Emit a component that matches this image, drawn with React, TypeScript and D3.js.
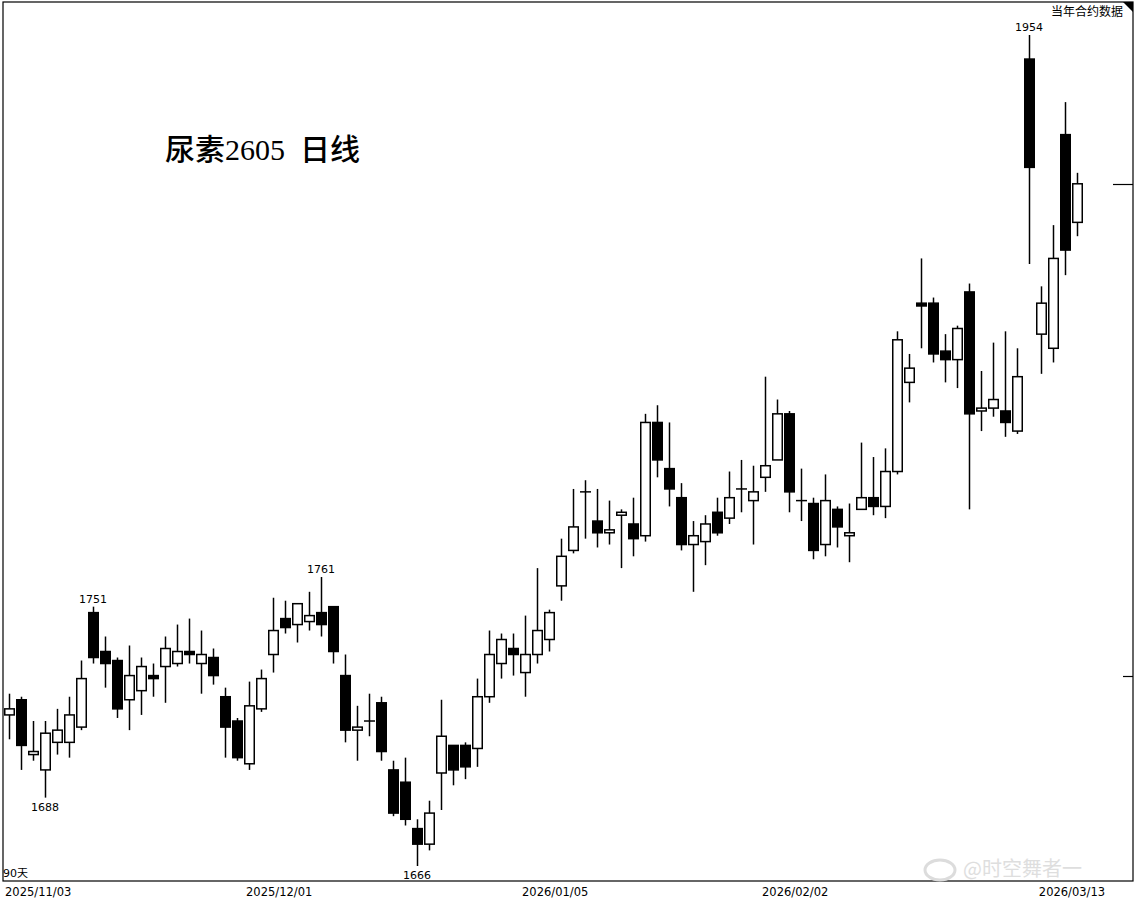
import React from "react";
import * as d3 from "d3";

const opens = [1715,1720,1702,1697,1706,1706,1711,1749,1736,1733,1720,1723,1728,1731,1732,1736,1732,1734,1721,1713,1699,1717,1735,1747,1745,1746,1749,1751,1728,1710,1713,1719,1697,1693,1678,1673,1696,1705,1705,1704,1721,1732,1737,1729,1735,1740,1758,1770,1790,1780,1776,1782,1779,1775,1814,1798,1788,1772,1773,1783,1781,1791,1787,1795,1801,1817,1787,1786,1772,1784,1775,1784,1788,1785,1797,1828,1856,1856,1839,1836,1860,1818,1819,1818,1811,1945,1845,1840,1917,1885];
const highs = [1722,1721,1713,1713,1717,1721,1733,1751,1741,1734,1738,1734,1732,1741,1745,1747,1743,1737,1724,1714,1726,1730,1754,1753,1752,1756,1761,1751,1735,1718,1722,1721,1700,1701,1681,1687,1720,1705,1706,1727,1743,1742,1742,1748,1764,1750,1774,1791,1794,1791,1787,1784,1788,1817,1820,1814,1793,1780,1782,1788,1797,1801,1799,1830,1822,1818,1798,1788,1796,1785,1786,1807,1802,1805,1846,1838,1872,1858,1845,1848,1863,1832,1842,1846,1840,1954,1862,1884,1929,1903];
const lows = [1707,1697,1700,1688,1702,1701,1710,1732,1724,1714,1710,1715,1721,1719,1731,1732,1722,1725,1701,1700,1697,1716,1729,1742,1739,1743,1741,1732,1706,1700,1708,1700,1682,1679,1666,1671,1684,1692,1694,1698,1719,1727,1728,1721,1732,1736,1753,1769,1774,1771,1772,1764,1768,1773,1795,1785,1770,1756,1765,1775,1779,1783,1772,1790,1801,1783,1780,1767,1768,1771,1766,1784,1782,1781,1796,1821,1840,1835,1828,1826,1784,1811,1816,1809,1810,1870,1831,1835,1866,1880];
const closes = [1717,1705,1703,1709,1710,1715,1727,1734,1732,1717,1728,1731,1727,1737,1736,1735,1735,1728,1711,1701,1718,1727,1743,1744,1752,1748,1745,1736,1710,1711,1713,1703,1683,1681,1673,1683,1708,1697,1698,1721,1735,1740,1735,1735,1743,1749,1768,1778,1790,1776,1777,1783,1774,1814,1801,1791,1772,1775,1779,1776,1788,1791,1790,1799,1817,1790,1787,1770,1787,1778,1776,1788,1785,1797,1843,1833,1855,1838,1836,1847,1817,1819,1822,1814,1830,1905,1856,1872,1875,1899];

const dateTickIndex = [0, 20, 43, 63, 89];
const dateTickLabels = ["2025/11/03", "2025/12/01", "2026/01/05", "2026/02/02", "2026/03/13"];

const highLabelIndex = [7, 26, 85];
const lowLabelIndex = [3, 34];

const rightMarks = [1899, 1728];

const title = "尿素2605  日线";
const cornerNote = "当年合约数据";
const periodNote = "90天";
const watermark = "@时空舞者一";

export default function App() {
  const W = 1137, H = 901;
  const left = 3, top = 2, right = 1133, bottom = 881;
  const n = opens.length;
  const x = d3.scaleLinear().domain([0, n - 1]).range([9, 1077]);
  const y = d3.scaleLog().domain([1666, 1954]).range([866, 35]);
  const bw = 9.5;
  const sw = 1.5;
  const numFont = "'DejaVu Sans', Tahoma, sans-serif";

  const candles = d3.range(n).map((i) => {
    const o = opens[i], c = closes[i], h = highs[i], l = lows[i];
    const cx = Math.round(x(i)) + 0.5;
    const up = c >= o;
    const yTop = y(Math.max(o, c));
    const yBot = y(Math.min(o, c));
    const doji = o === c;
    return (
      <g key={i}>
        <line x1={cx} x2={cx} y1={y(h)} y2={y(l)} stroke="#000" strokeWidth={sw} />
        {doji ? (
          <line x1={cx - 5.5} x2={cx + 5.5} y1={yTop} y2={yTop} stroke="#000" strokeWidth={sw} />
        ) : (
          <rect
            x={cx - bw / 2}
            y={yTop}
            width={bw}
            height={Math.max(yBot - yTop, 1.5)}
            fill={up ? "#fff" : "#000"}
            stroke="#000"
            strokeWidth={sw}
          />
        )}
      </g>
    );
  });

  return (
    <svg width={W} height={H} style={{ position: "absolute", left: 0, top: 0, display: "block", background: "#fff" }}>
      <rect x={0} y={0} width={W} height={H} fill="#fff" />
      {/* frame */}
      <rect x={left} y={top} width={right - left} height={bottom - top} fill="none" stroke="#000" strokeWidth={1.2} />
      <polygon points={`${right - 10},${top} ${right},${top} ${right},${top + 10}`} fill="#000" />
      {/* right marks */}
      {rightMarks.map((v, k) => (
        <line key={k} x1={k === 0 ? right - 20 : right - 10} x2={right} y1={Math.round(y(v)) + 0.5} y2={Math.round(y(v)) + 0.5} stroke="#000" strokeWidth={1.2} />
      ))}
      {/* watermark */}
      <g>
        <ellipse cx={940} cy={870} rx={15} ry={10} fill="none" stroke="#dcdcdc" strokeWidth={3} />
        <text x={963} y={876} fontSize={20} fill="#dedede" fontFamily="'Noto Sans CJK SC', sans-serif">{watermark}</text>
      </g>
      {candles}
      {/* title */}
      <text x={165} y={160} fontSize={30} fontWeight={500} fill="#000" fontFamily="'Liberation Serif', 'Noto Sans CJK SC', serif" style={{ whiteSpace: "pre" }} xmlSpace="preserve">{title}</text>
      {/* corner note */}
      <text x={1123} y={16} fontSize={12} textAnchor="end" fill="#000" fontFamily="'Noto Sans CJK SC', sans-serif">{cornerNote}</text>
      {/* high/low labels */}
      {highLabelIndex.map((i) => (
        <text key={"h" + i} x={x(i)} y={y(highs[i]) - 4} fontSize={11} textAnchor="middle" fill="#000" fontFamily={numFont}>{highs[i]}</text>
      ))}
      {lowLabelIndex.map((i) => (
        <text key={"l" + i} x={x(i)} y={y(lows[i]) + 13} fontSize={11} textAnchor="middle" fill="#000" fontFamily={numFont}>{lows[i]}</text>
      ))}
      {/* period note */}
      <text x={3} y={877} fontSize={11} fill="#000" fontFamily={"'DejaVu Sans', 'Noto Sans CJK SC', sans-serif"}>{periodNote}</text>
      {/* date ticks */}
      {dateTickIndex.map((i, k) => {
        const last = k === dateTickIndex.length - 1;
        return (
          <text key={"d" + k} x={last ? x(i) - 5 : x(i) - (k === 0 ? 4 : 3)} y={896} fontSize={11.5} textAnchor={last ? "middle" : "start"} fill="#000" fontFamily={numFont}>
            {dateTickLabels[k]}
          </text>
        );
      })}
    </svg>
  );
}
